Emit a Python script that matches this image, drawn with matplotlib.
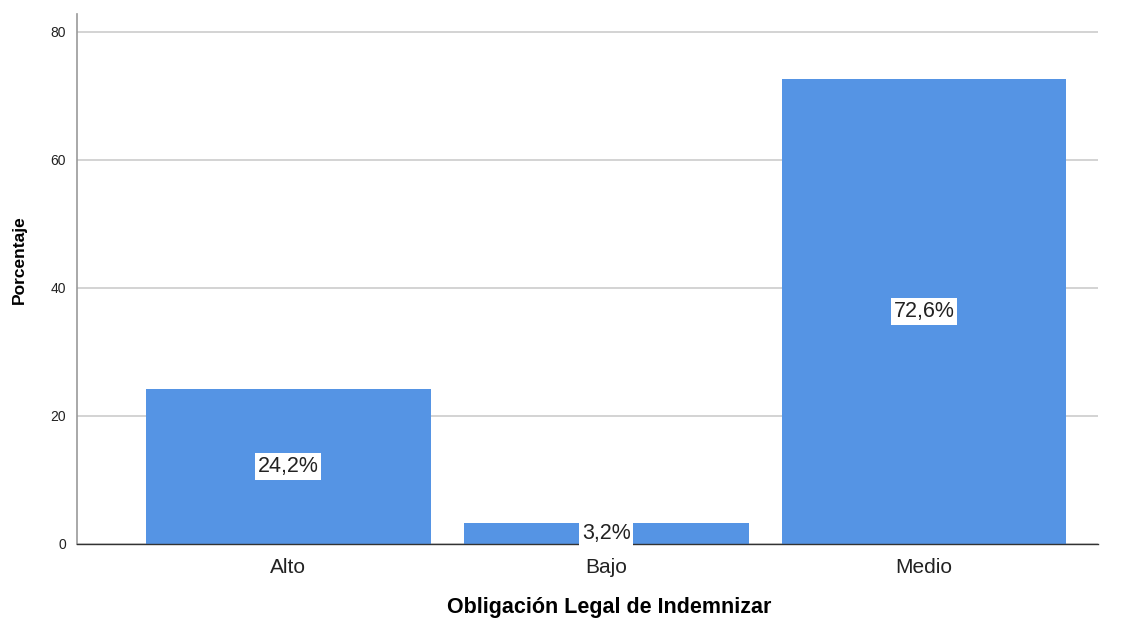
import matplotlib
matplotlib.use("Agg")
import matplotlib.pyplot as plt

categories = ["Alto", "Bajo", "Medio"]
values = [24.2, 3.2, 72.6]
labels = ["24,2%", "3,2%", "72,6%"]
yticks = [0, 20, 40, 60, 80]

plt.rcParams['font.family'] = ['Liberation Sans', 'DejaVu Sans']

fig = plt.figure(figsize=(11.26, 6.21), dpi=100)
ax = fig.add_axes([0.0684, 0.124, 0.9066, 0.853])

x = list(range(len(categories)))
ax.bar(x, values, width=0.896, color='#5594e4', zorder=2)
for xi, v, lab in zip(x, values, labels):
    ax.text(xi, v / 2, lab, ha='center', va='center', fontsize=15.5, color='#222222',
            bbox=dict(boxstyle='square,pad=0.12', fc='white', ec='none'), zorder=3)

ax.set_xlim(-0.665, 2.547)
ax.set_ylim(0, 82.7)
ax.set_yticks(yticks)
ax.set_yticklabels([str(t) for t in yticks])
ax.set_xticks(x)
ax.set_xticklabels(categories)
ax.yaxis.grid(True, color='#cccccc', linewidth=1.2, zorder=0)
ax.set_axisbelow(True)
ax.tick_params(axis='y', length=0, labelsize=10, pad=8, colors='#222222')
ax.tick_params(axis='x', length=0, labelsize=15, pad=10, colors='#222222')

for s in ['top', 'right']:
    ax.spines[s].set_visible(False)
ax.spines['left'].set_color('#999999')
ax.spines['left'].set_linewidth(1.2)
ax.spines['bottom'].set_color('#333333')
ax.spines['bottom'].set_linewidth(1.0)

ax.set_xlabel("Obligación Legal de Indemnizar", fontsize=15.5, fontweight='bold')
ax.xaxis.set_label_coords(0.521, -0.119)
ax.xaxis.label.set_va('center')
ax.set_ylabel("Porcentaje", fontsize=12.5, fontweight='bold')
ax.yaxis.set_label_coords(-0.056, 0.536)
ax.yaxis.label.set_va('center')

fig.savefig("out.png", dpi=100)
